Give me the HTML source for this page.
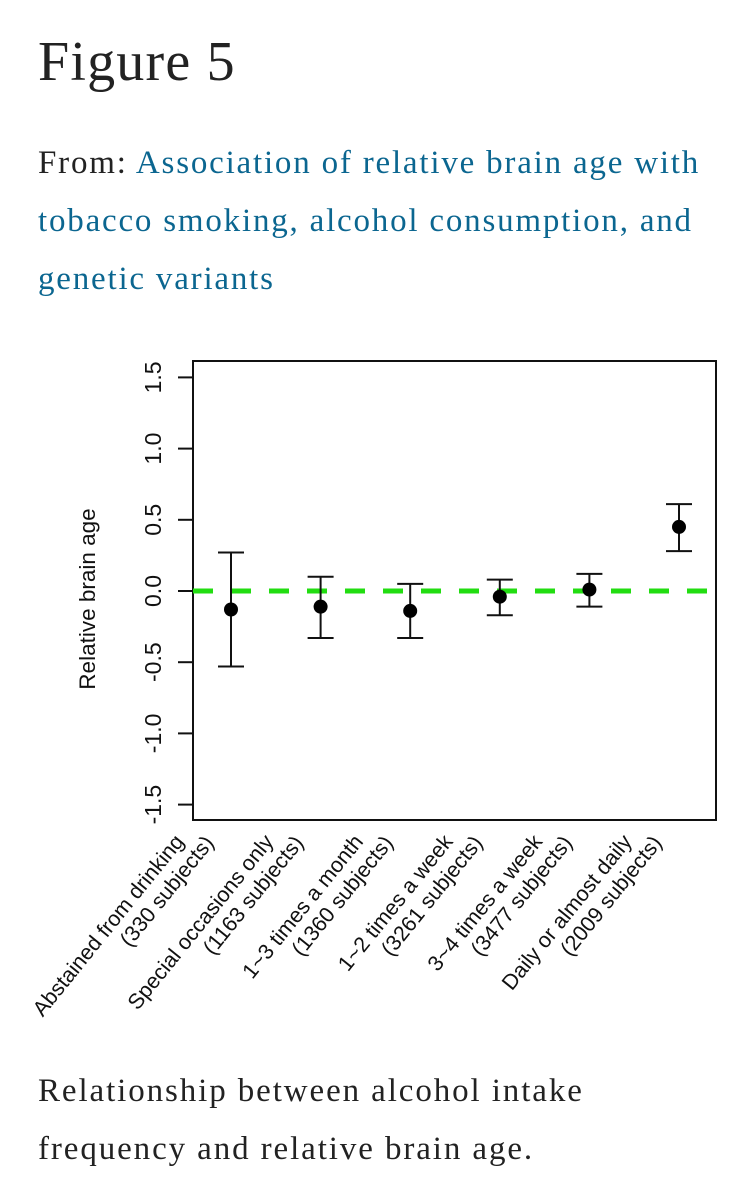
<!DOCTYPE html>
<html><head><meta charset="utf-8"><style>
body{margin:0;background:#fff;width:755px;height:1200px;overflow:hidden;font-family:"Liberation Serif",serif;}
.h{position:absolute;left:38px;top:30px;font-size:56px;letter-spacing:1.2px;color:#222;margin:0;font-weight:normal;}
.from{position:absolute;left:38px;top:134px;font-size:33px;letter-spacing:1.8px;line-height:58px;color:#222;width:720px;white-space:nowrap;}
.from a{color:#0b6690;text-decoration:none;}
.cap{position:absolute;left:38px;top:1062px;font-size:33px;letter-spacing:1.9px;line-height:58px;color:#222;width:720px;white-space:nowrap;}
svg{position:absolute;left:0;top:0;}
</style></head><body>
<h1 class="h">Figure 5</h1>
<div class="from">From: <a>Association of relative brain age with<br>tobacco smoking, alcohol consumption, and<br>genetic variants</a></div>
<svg id="chart" width="755" height="1200" font-family="Liberation Sans, Arial, sans-serif"></svg>
<div class="cap">Relationship between alcohol intake<br>frequency and relative brain age.</div>
<script>
const categories=["Abstained from drinking","Special occasions only","1~3 times a month","1~2 times a week","3~4 times a week","Daily or almost daily"];
const subjects=["(330 subjects)","(1163 subjects)","(1360 subjects)","(3261 subjects)","(3477 subjects)","(2009 subjects)"];
const means=[-0.13,-0.11,-0.14,-0.04,0.01,0.45];
const lower=[-0.53,-0.33,-0.33,-0.17,-0.11,0.28];
const upper=[0.27,0.10,0.05,0.08,0.12,0.61];
const yTicks=[-1.5,-1.0,-0.5,0.0,0.5,1.0,1.5];
const yTickLabels=["-1.5","-1.0","-0.5","0.0","0.5","1.0","1.5"];
const NS="http://www.w3.org/2000/svg";
const svg=document.getElementById('chart');
const L=193,R=716,T=361,B=820;
const y=v=>591-v*142.4;
const x=i=>231+i*89.6;
function el(t,a,p){const e=document.createElementNS(NS,t);for(const k in a)e.setAttribute(k,a[k]);(p||svg).appendChild(e);return e;}
const box=el('rect',{x:L,y:T,width:R-L,height:B-T,fill:'none',stroke:'#111','stroke-width':2});


yTicks.forEach((v,i)=>{
  const tk=el('line',{x1:178,x2:L,y1:y(v),y2:y(v),stroke:'#111','stroke-width':2});
  
  
  const t=el('text',{x:0,y:0,'font-size':23,'text-anchor':'middle',fill:'#111',transform:`translate(161,${y(v)}) rotate(-90)`});
  t.textContent=yTickLabels[i];
  
  
});
const yt=el('text',{x:0,y:0,'font-size':22.5,'text-anchor':'middle',fill:'#111',transform:'translate(95,599) rotate(-90)'});
yt.textContent='Relative brain age';


const ref=el('line',{x1:L,x2:R,y1:y(0),y2:y(0),stroke:'#22dd11','stroke-width':5,'stroke-dasharray':'20 18'});


categories.forEach((c,i)=>{
  const cx=x(i);
  const g=el('g',{});
  
  
  el('line',{x1:cx,x2:cx,y1:y(lower[i]),y2:y(upper[i]),stroke:'#111','stroke-width':2},g);
  el('line',{x1:cx-13,x2:cx+13,y1:y(lower[i]),y2:y(lower[i]),stroke:'#111','stroke-width':2},g);
  el('line',{x1:cx-13,x2:cx+13,y1:y(upper[i]),y2:y(upper[i]),stroke:'#111','stroke-width':2},g);
  const p=el('circle',{cx:cx,cy:y(means[i]),r:7,fill:'#000'});
  
  
  const lg=el('g',{transform:`translate(${cx-20},840) rotate(-51)`});
  
  
  const t1=el('text',{x:-18,y:-19,'font-size':21.5,'text-anchor':'end',fill:'#111'},lg);t1.textContent=c;
  const t2=el('text',{x:0,y:5,'font-size':21.5,'text-anchor':'end',fill:'#111'},lg);t2.textContent=subjects[i];
});
</script>
</body></html>
